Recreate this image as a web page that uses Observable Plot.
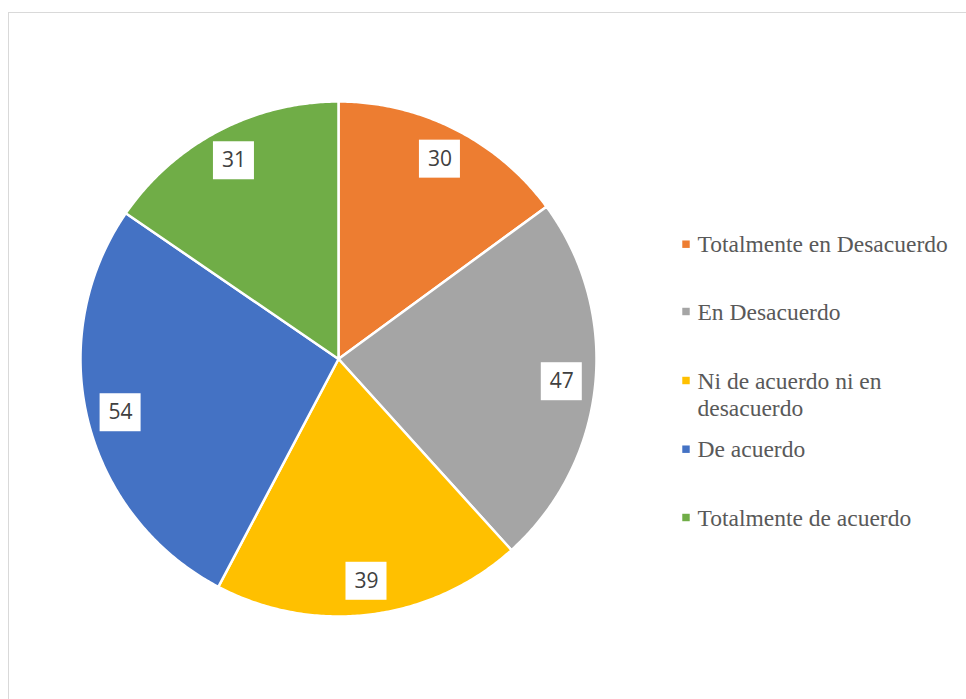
<!DOCTYPE html>
<html><head><meta charset="utf-8">
<script src="https://cdn.jsdelivr.net/npm/d3@7"></script>
<script src="https://cdn.jsdelivr.net/npm/@observablehq/plot@0.6"></script>
<style>
html,body{margin:0;padding:0;background:#fff;overflow:hidden;}
#wrap{position:relative;width:966px;height:699px;overflow:hidden;}
#border{position:absolute;left:8px;top:12px;width:1200px;height:1200px;border:1.5px solid #d9d9d9;box-sizing:border-box;}
#chart{position:absolute;left:0;top:0;}
</style></head><body>
<div id="wrap"><div id="border"></div><div id="chart"></div></div>
<script>
const categories = ["Totalmente en Desacuerdo","En Desacuerdo","Ni de acuerdo ni en desacuerdo","De acuerdo","Totalmente de acuerdo"];
const values = [30, 47, 39, 54, 31];
const colors = ["#ED7D31","#A5A5A5","#FFC000","#4472C4","#70AD47"];
const legendLines = [["Totalmente en Desacuerdo"],["En Desacuerdo"],["Ni de acuerdo ni en","desacuerdo"],["De acuerdo"],["Totalmente de acuerdo"]];

// slice polygons from d3.pie (clockwise from 12 o'clock)
const arcs = d3.pie().sort(null).value(d => d)(values);
const slicePts = [];
arcs.forEach((a, i) => {
  slicePts.push({cat: categories[i], x: 0, y: 0});
  const n = Math.max(2, Math.ceil((a.endAngle - a.startAngle) / (Math.PI / 360)));
  for (let k = 0; k <= n; k++) {
    const t = a.startAngle + (a.endAngle - a.startAngle) * k / n;
    slicePts.push({cat: categories[i], x: Math.sin(t), y: Math.cos(t)});
  }
  slicePts.push({cat: categories[i], x: 0, y: 0});
});
const labelR = 0.87;
const labels = arcs.map((a, i) => {
  const m = (a.startAngle + a.endAngle) / 2;
  return {cat: categories[i], value: values[i], x: labelR * Math.sin(m), y: labelR * Math.cos(m)};
});

const mL = 80, mT = 101;
const legendTextX = 697, legendMarkX = 685.5;
const baselines = [251.7, 319, 388, 456.7, 525];
const legendFont = 23.5, legendLH = 27;
const legendMarks = [];
legendLines.forEach((lines, i) => {
  legendMarks.push(Plot.dot([categories[i]], {
    frameAnchor: "top-left", dx: legendMarkX - mL, dy: baselines[i] - 8 - mT,
    symbol: "square", r: 4.2, fill: d => d, stroke: null
  }));
  const last = baselines[i] + (lines.length - 1) * legendLH;
  legendMarks.push(Plot.text([lines.join("\n")], {
    text: d => d, frameAnchor: "top-left", textAnchor: "start", lineAnchor: "bottom",
    dx: legendTextX - mL, dy: last - mT, fontSize: legendFont,
    fontFamily: "'Liberation Serif', 'Times New Roman', serif",
    fill: "#595959", lineHeight: legendLH / legendFont
  }));
});

const boxHalfW = 20.5, boxHalfH = 19;
const chart = Plot.plot({
  width: 966, height: 699,
  marginLeft: mL, marginRight: 370, marginTop: mT, marginBottom: 83,
  x: {domain: [-1, 1], axis: null},
  y: {domain: [-1, 1], axis: null},
  color: {domain: categories, range: colors},
  style: {background: "transparent", overflow: "visible"},
  marks: [
    Plot.line(slicePts, {x: "x", y: "y", z: "cat", fill: "cat", stroke: "white", strokeWidth: 2.5, strokeLinejoin: "round", curve: "linear"}),
    Plot.rect(labels, {x1: "x", x2: "x", y1: "y", y2: "y", fill: "white",
      insetLeft: -boxHalfW, insetRight: -boxHalfW, insetTop: -boxHalfH, insetBottom: -boxHalfH}),
    Plot.text(labels, {x: "x", y: "y", text: d => String(d.value), fontSize: 21, fontFamily: "'Open Sans', sans-serif", fill: "#404040"}),
    ...legendMarks
  ]
});
document.getElementById("chart").appendChild(chart);
</script>
</body></html>
